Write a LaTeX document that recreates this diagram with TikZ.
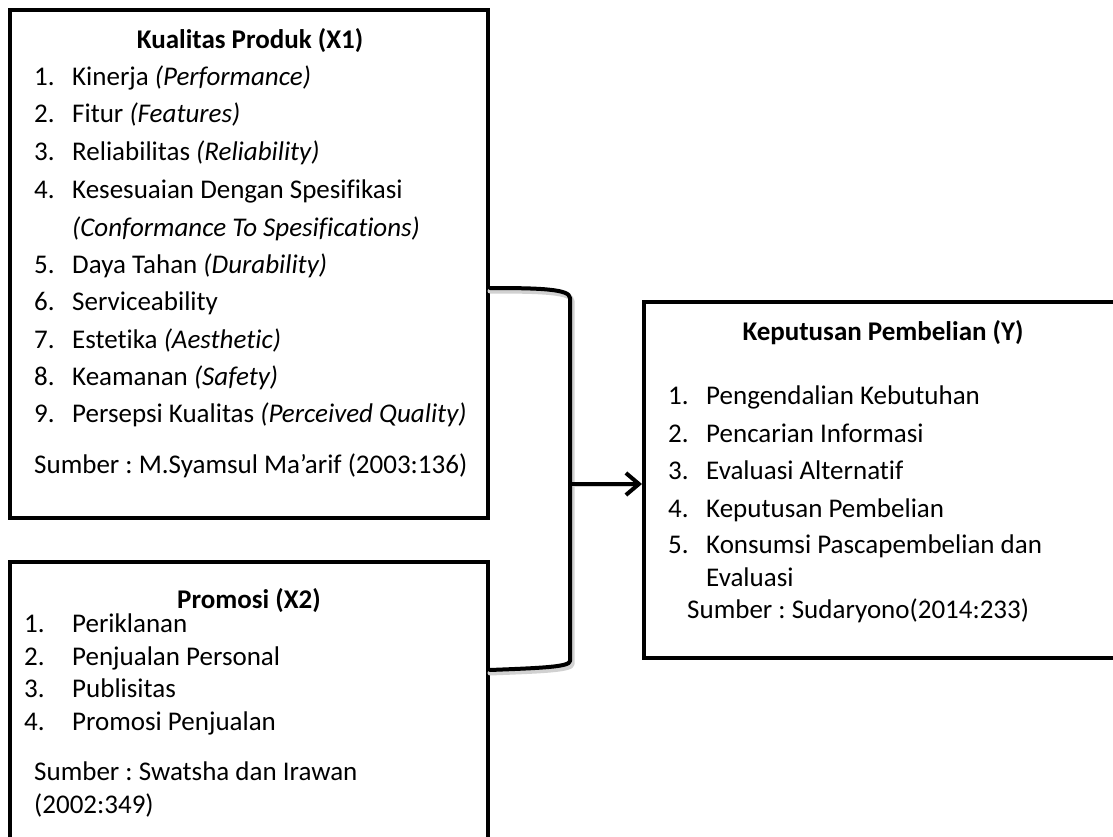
\documentclass[tikz,border=0pt]{standalone}
\usepackage{fontspec}
\setmainfont{Carlito}[Ligatures=NoCommon]
\usetikzlibrary{arrows.meta,calc}
\frenchspacing
\begin{document}
\begin{tikzpicture}[x=1pt,y=-1pt,
  box/.style={draw,line width=4pt,rectangle,inner sep=0pt},
  txt/.style={anchor=base west,inner sep=0pt,font=\fontsize{27}{32}\selectfont},
  ttl/.style={anchor=base,inner sep=0pt,font=\fontsize{27}{32}\selectfont\bfseries},
  conn/.style={line width=4pt,line cap=round,line join=round},
  shade/.style={line width=5pt,line cap=round,line join=round,black!18}
]
\useasboundingbox (0,0) rectangle (1113,837);
% boxes
\node[box,minimum width=478pt,minimum height=508pt] (x1) at (249,264) {};
\node[box,minimum width=478pt,minimum height=300pt] (x2) at (249,712) {};
\node[box,minimum width=500pt,minimum height=356pt] (y) at (894,480) {};
% X1 text
\node[ttl] (t1) at (250,49) {Kualitas Produk (X1)};
\foreach \n/\yy/\t in {1/86/{Kinerja \textit{(Performance)}},
  2/123/{Fitur \textit{(Features)}},
  3/161/{Reliabilitas \textit{(Reliability)}},
  4/198/{Kesesuaian Dengan Spesifikasi},
  5/273/{Daya Tahan \textit{(Durability)}},
  6/310/{Serviceability},
  7/348/{Estetika \textit{(Aesthetic)}},
  8/385/{Keamanan \textit{(Safety)}},
  9/422/{Persepsi Kualitas \textit{(Perceived Quality)}}}{
  \node[txt] (a\n) at (34,\yy) {\n.};
  \node[txt] (b\n) at (72,\yy) {\t};
}
\node[txt] (b4c) at (72,236) {\textit{(Conformance To Spesifications)}};
\node[txt] (s1) at (34,473) {Sumber : M.Syamsul Ma’arif (2003:136)};
% X2 text
\node[ttl] (t2) at (249,608) {Promosi (X2)};
\foreach \n/\yy/\t in {1/632/{Periklanan},2/665/{Penjualan Personal},3/697/{Publisitas},4/730/{Promosi Penjualan}}{
  \node[txt] (c\n) at (24,\yy) {\n.};
  \node[txt] (d\n) at (72,\yy) {\t};
}
\node[txt] (s2) at (34,780) {Sumber : Swatsha dan Irawan};
\node[txt] (s2b) at (34,813) {(2002:349)};
% Y text
\node[ttl] (t3) at (883,340) {Keputusan Pembelian (Y)};
\foreach \n/\yy/\t in {1/404/{Pengendalian Kebutuhan},2/442/{Pencarian Informasi},3/479/{Evaluasi Alternatif},4/517/{Keputusan Pembelian},5/553/{Konsumsi Pascapembelian dan}}{
  \node[txt] (e\n) at (668,\yy) {\n.};
  \node[txt] (f\n) at (706,\yy) {\t};
}
\node[txt] (f5c) at (706,586) {Evaluasi};
\node[txt] (s3) at (687,618) {Sumber : Sudaryono(2014:233)};
% bracket
\coordinate (j) at (571,484);
\begin{scope}[shift={(2,3)}]
\draw[shade] (x1.east |- 0,288) .. controls (540,288) and (570,289) .. (570,298)
  -- (570,661) .. controls (570,667) and (540,668) .. (x2.east |- 0,670);
\draw[shade] (j) -- ($(y.west |- j)+(-8,0)$);
\end{scope}
\draw[conn] (x1.east |- 0,288) .. controls (540,288) and (570,289) .. (570,298)
  -- (570,661) .. controls (570,667) and (540,668) .. (x2.east |- 0,670);
\draw[conn,-{Straight Barb[length=13pt,width=22pt,line width=4pt]}] (j) -- (y.west |- j);
\end{tikzpicture}
\end{document}
